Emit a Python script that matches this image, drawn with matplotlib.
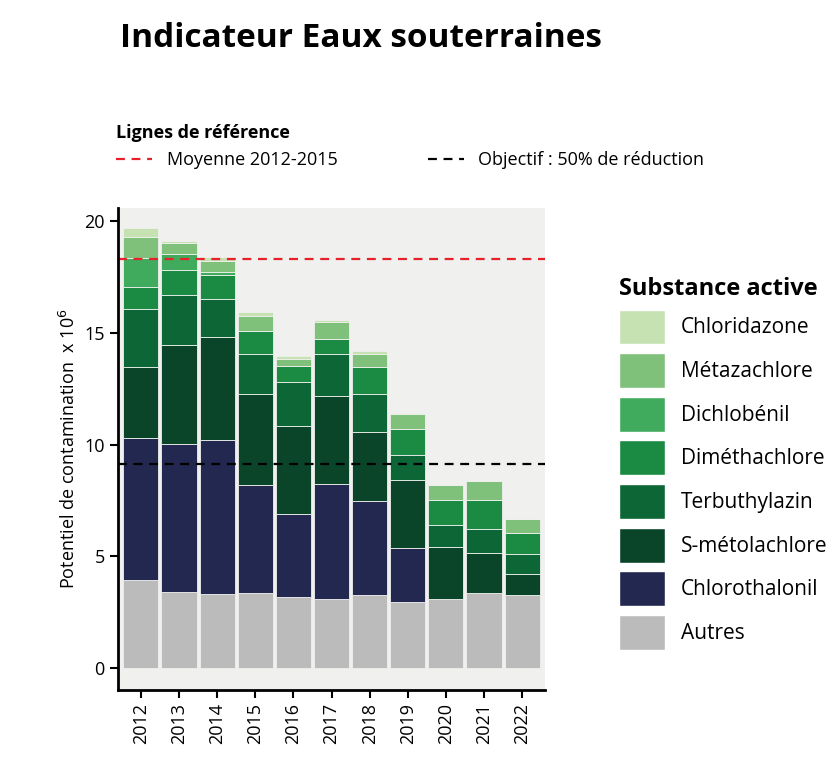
import matplotlib
matplotlib.use("Agg")
import matplotlib.pyplot as plt
from matplotlib.patches import Patch
from matplotlib.lines import Line2D
import numpy as np

plt.rcParams["font.family"] = "Open Sans"

years = ["2012","2013","2014","2015","2016","2017","2018","2019","2020","2021","2022"]
# cumulative tops, bottom to top
autres_top   = [3.91, 3.41, 3.31, 3.35, 3.19, 3.08, 3.25, 2.93, 3.08, 3.34, 3.25]
chloro_top   = [10.30,10.03,10.20,8.18, 6.89, 8.24, 7.46, 5.37, 3.08, 3.34, 3.25]
smeto_top    = [13.49,14.47,14.81,12.26,10.83,12.17,10.57,8.41, 5.41, 5.14, 4.21]
terb_top     = [16.08,16.71,16.50,14.06,12.81,14.06,12.25,9.54, 6.39, 6.23, 5.08]
dimeth_top   = [17.05,17.80,17.58,15.08,13.50,14.71,13.47,10.68,7.52, 7.52, 6.02]
dichlob_top  = [18.38,18.56,17.74,15.08,13.50,14.71,13.47,10.68,7.52, 7.52, 6.02]
metaz_top    = [19.28,19.04,18.23,15.74,13.85,15.49,14.06,11.35,8.18, 8.35, 6.68]
chlorid_top  = [19.70,19.14,18.39,15.94,13.95,15.58,14.21,11.40,8.18, 8.35, 6.68]

names = ["Autres","Chlorothalonil","S-métolachlore","Terbuthylazin",
         "Diméthachlore","Dichlobénil","Métazachlore","Chloridazone"]
colors = ["#bbbbbb","#22284f","#0a452a","#0c6636","#1b8a43","#41ab5d","#7fc07a","#c6e2b2"]
tops = [autres_top, chloro_top, smeto_top, terb_top, dimeth_top, dichlob_top, metaz_top, chlorid_top]

mean_ref = 18.3
objective = 9.15

fig = plt.figure(figsize=(8.36, 7.62), dpi=100)
ax = fig.add_axes([118/836, 1-690/762, (545-118)/836, (690-208)/762])
ax.set_facecolor("#f0f0ee")
x = np.arange(len(years))
prev = np.zeros(len(years))
for n, c, t in zip(names, colors, tops):
    t = np.array(t)
    ax.bar(x, t - prev, bottom=prev, width=0.92, color=c, edgecolor="#f0f0ee", linewidth=0.6)
    prev = t
ax.axhline(mean_ref, color="#e8202a", ls=(0, (4, 3)), lw=1.6)
ax.axhline(objective, color="black", ls=(0, (4, 3)), lw=1.6)
ax.set_xlim(-0.6, 10.6)
ax.set_ylim(-1.0, 20.6)
ax.set_yticks([0, 5, 10, 15, 20])
ax.set_xticks(x)
ax.set_xticklabels(years, rotation=90, fontsize=13)
ax.tick_params(axis="y", labelsize=13, length=6, width=1.5)
ax.tick_params(axis="x", length=6, width=1.5)
for s in ["top", "right"]:
    ax.spines[s].set_visible(False)
for s in ["left", "bottom"]:
    ax.spines[s].set_linewidth(2)
ax.set_ylabel("Potentiel de contamination  x 10$^6$", fontsize=13)

fig.text(120/836, 1-22/762, "Indicateur Eaux souterraines", fontsize=24, fontweight="bold", va="top")

ref_handles = [Line2D([0], [0], color="#e8202a", ls=(0, (4, 3)), lw=1.6),
               Line2D([0], [0], color="black", ls=(0, (4, 3)), lw=1.6)]
leg1 = fig.legend(ref_handles, ["Moyenne 2012-2015", "Objectif : 50% de réduction"],
                  ncol=2, loc="upper left", bbox_to_anchor=(100/836, 1-108/762),
                  frameon=False, fontsize=13, title="Lignes de référence",
                  title_fontproperties={"weight": "bold", "size": 13},
                  columnspacing=5, handlelength=2)
leg1._legend_box.align = "left"

handles = [Patch(facecolor=c, edgecolor="white") for c in colors[::-1]]
leg2 = fig.legend(handles, names[::-1], loc="upper left", bbox_to_anchor=(600/836, 1-258/762),
                  frameon=False, fontsize=15, title="Substance active",
                  title_fontproperties={"weight": "bold", "size": 17},
                  handlelength=2.2, handleheight=2.2, labelspacing=0.42, handletextpad=0.8)
leg2._legend_box.align = "left"

fig.savefig("out.png", dpi=100)
